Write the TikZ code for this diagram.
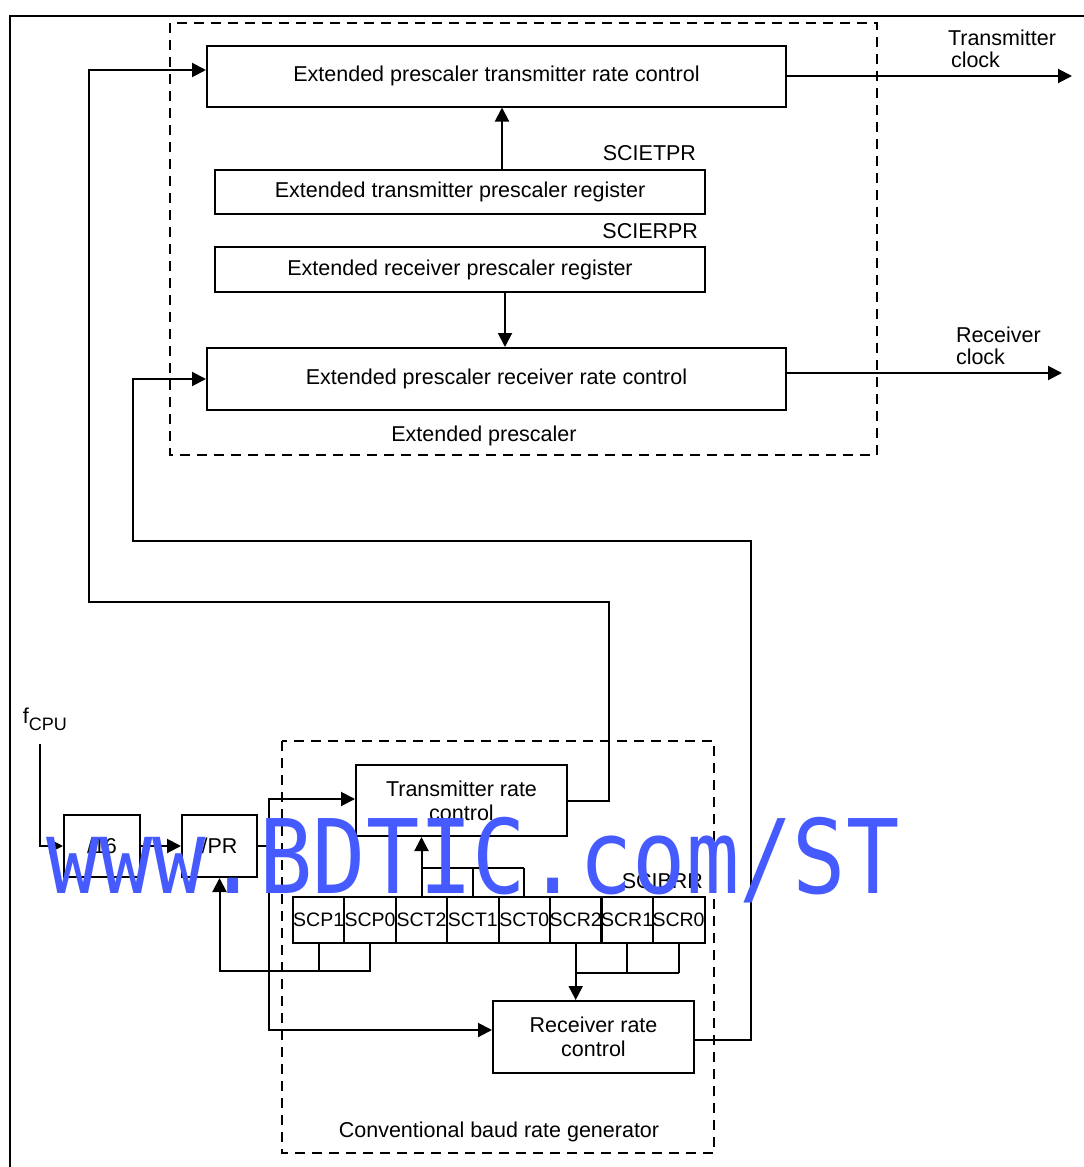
\documentclass[tikz,border=0pt]{standalone}
\usepackage{fontspec}
\setmainfont{Liberation Sans}
\newfontfamily\wmfont{DejaVu Sans Mono}
\usetikzlibrary{arrows.meta}
\definecolor{WmBlue}{HTML}{455AFF}

\begin{document}
\begin{tikzpicture}[x=1pt,y=-1pt,line width=2pt,
    font=\fontsize{21.5}{24}\selectfont,
    box/.style={draw,inner sep=0pt,align=center},
    cell/.style={draw,inner sep=0pt,minimum width=51.4pt,minimum height=46pt,font=\fontsize{19.5}{21}\selectfont},
    dbox/.style={line width=1.6pt,dash pattern=on 10pt off 7pt},
    lbl/.style={inner sep=0pt,align=left,font=\fontsize{21.5}{22}\selectfont},
    arr/.style={-{Triangle[length=14pt,width=14pt]}}]
      \useasboundingbox (0,0) rectangle (1084,1167);
      \draw[line width=1.5pt] (10,1167)--(10,16)--(1084,16);
      \draw[dbox] (170,23) rectangle (877,455);
      \draw[dbox] (282,741) rectangle (714,1153);
      \node[box,minimum width=579pt,minimum height=61pt] (eptx) at (496.5,76){Extended prescaler transmitter rate control};
      \node[box,minimum width=490pt,minimum height=44pt] (etpr) at (460,192){Extended transmitter prescaler register};
      \node[box,minimum width=490pt,minimum height=45pt] (erpr) at (460,269.5){Extended receiver prescaler register};
      \node[box,minimum width=579pt,minimum height=62pt] (eprx) at (496.5,379){Extended prescaler receiver rate control};
      \node[anchor=east,inner sep=0pt] (etprlbl) at (697,153){SCIETPR};
      \node[anchor=east,inner sep=0pt] (erprlbl) at (699,231){SCIERPR};
      \node (eplbl) at (484,436){Extended prescaler};
      \node[lbl,anchor=west] (txlbl) at (947,48.5){Transmitter\\\hspace{3pt}clock};
      \node[lbl,anchor=west] (rxlbl) at (955,345.5){Receiver\\clock};
      \coordinate (txclk) at (1072,76);
      \coordinate (rxclk) at (1062,373);
      \draw[arr] (eptx.east)--(txclk);
      \draw[arr] ([yshift=6pt]eprx.east)--(rxclk);
      \draw[arr] ([xshift=42pt]etpr.north)--([xshift=42pt]etpr.north |- eptx.south);
      \draw[arr] ([xshift=45pt]erpr.south)--([xshift=45pt]erpr.south |- eprx.north);
      \node[box,minimum width=211pt,minimum height=71pt] (txrate) at (461.5,800.5){Transmitter rate\\control};
      \node[box,minimum width=201pt,minimum height=72pt] (rxrate) at (593.5,1037){Receiver rate\\control};
      \node[box,minimum width=76pt,minimum height=62pt] (div16) at (102,846){/16};
      \node[box,minimum width=75pt,minimum height=62pt] (divpr) at (219.5,846){/PR};
      \node (cbrlbl) at (499,1132){Conventional baud rate generator};
      \foreach \t [count=\i] in {SCP1,SCP0,SCT2,SCT1,SCT0,SCR2,SCR1,SCR0}
        \node[cell] (c\i) at ({293+51.4*(\i-0.5)},920){\t};
      \node[anchor=east,inner sep=0pt] (brrlbl) at (704,881){SCIBRR};
      \node[anchor=west,inner sep=0pt] (fcpu) at (22,719){f\raisebox{-7pt}{\fontsize{18}{20}\selectfont CPU}};
      \coordinate (fin) at (40,744);
      \coordinate (jn) at (269,846);
      \draw[arr] (fin) |- (div16);
      \draw[arr] (div16)--(divpr);
      \draw (divpr)--(jn);
      \draw[arr] (jn) |- ([yshift=1.5pt]txrate.west);
      \draw[arr] (jn) |- ([yshift=7pt]rxrate.west);
      \draw ([yshift=28pt]c3.north)--([yshift=28pt]c5.north) (c4.north)--++(0,-28) (c5.north)--++(0,-28);
      \draw[arr] (c3.north)--(c3.north |- txrate.south);
      \draw (c1.south)--++(0,27);
      \draw[arr] (c2.south)--++(0,27) -| (divpr.south);
      \draw ([yshift=-29pt]c6.south)--([yshift=-29pt]c8.south) (c7.south)--++(0,29) (c8.south)--++(0,29);
      \draw[arr] (c6.south)--(c6.south |- rxrate.north);
      \coordinate (txb) at (609,602);
      \coordinate (txl) at (89,70);
      \draw[arr] (txrate.east) -| (txb) -| (txl)--([yshift=6pt]eptx.west);
      \coordinate (rxb) at (751,541);
      \coordinate (rxl) at (133,379);
      \draw[arr] ([yshift=-3pt]rxrate.east) -| (rxb) -| (rxl)--(eprx.west);
      \node[font=\wmfont\fontsize{88.6}{90}\selectfont,text=WmBlue,anchor=base west,inner sep=0pt,yscale=1.16] (wm) at (45,893){www.BDTIC.com/ST};
    \end{tikzpicture}
\end{document}
